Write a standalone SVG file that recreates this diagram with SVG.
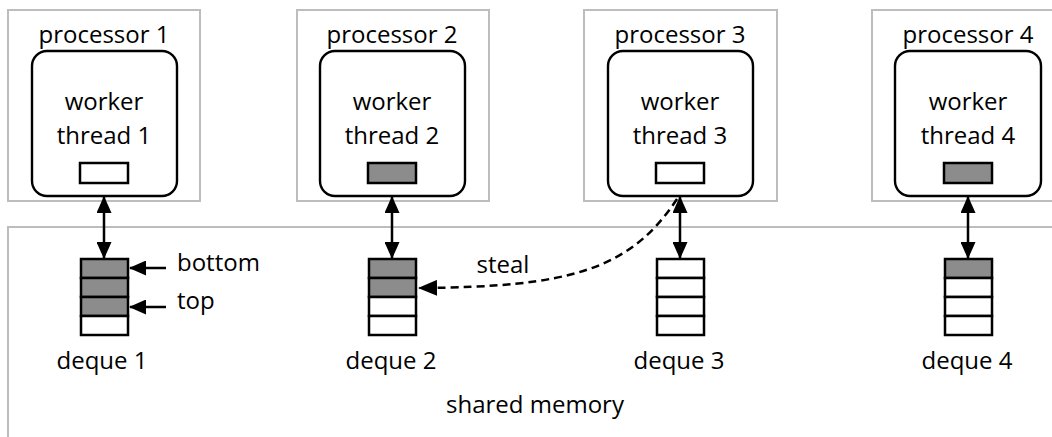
<svg xmlns="http://www.w3.org/2000/svg" width="1052" height="437" viewBox="0 0 1052 437">
<defs>
<style>
.proc{fill:#fff;stroke:#bdbdbd;stroke-width:2}
.mem{fill:#fff;stroke:#bdbdbd;stroke-width:2}
.worker{fill:#fff;stroke:#000;stroke-width:2.4}
.cell{stroke:#000;stroke-width:2.5}
.full{fill:#8c8c8c}
.empty{fill:#fff}
text{font-family:"Open Sans","Liberation Sans",sans-serif;font-size:24px;fill:#000}
.c{text-anchor:middle}
.link{fill:none;stroke:#000;stroke-width:2.5}
.dash{fill:none;stroke:#000;stroke-width:2.5;stroke-dasharray:8 5}
</style>
<marker id="ah" viewBox="0 0 17 15" refX="16" refY="7.5" markerWidth="17" markerHeight="15" markerUnits="userSpaceOnUse" orient="auto-start-reverse">
<path d="M0 0 L17 7.5 L0 15 Z" fill="#000"/>
</marker>
<marker id="ah2" viewBox="0 0 19 16" refX="18" refY="8" markerWidth="19" markerHeight="16" markerUnits="userSpaceOnUse" orient="auto">
<path d="M0 0 L19 8 L0 16 Z" fill="#000"/>
</marker>
</defs>

<g id="shared-memory">
<rect class="mem" x="8" y="227" width="1060" height="220"/>
<text class="c" x="535" y="413">shared memory</text>
</g>

<g id="processor1">
<rect class="proc" x="8" y="10" width="192" height="191"/>
<text class="c" x="104" y="43">processor 1</text>
<rect class="worker" x="32" y="51" width="145" height="145" rx="15"/>
<text class="c" x="104" y="110">worker</text>
<text class="c" x="104" y="144">thread 1</text>
<rect class="cell empty" x="80" y="163" width="48" height="20"/>
</g>

<g id="processor2">
<rect class="proc" x="297" y="10" width="192" height="191"/>
<text class="c" x="392" y="43">processor 2</text>
<rect class="worker" x="320" y="51" width="145" height="145" rx="15"/>
<text class="c" x="392" y="110">worker</text>
<text class="c" x="392" y="144">thread 2</text>
<rect class="cell full" x="368" y="163" width="48" height="20"/>
</g>

<g id="processor3">
<rect class="proc" x="584" y="10" width="193" height="191"/>
<text class="c" x="680" y="43">processor 3</text>
<rect class="worker" x="608" y="51" width="145" height="145" rx="15"/>
<text class="c" x="680" y="110">worker</text>
<text class="c" x="680" y="144">thread 3</text>
<rect class="cell empty" x="656" y="163" width="48" height="20"/>
</g>

<g id="processor4">
<rect class="proc" x="872" y="10" width="192" height="191"/>
<text class="c" x="968" y="43">processor 4</text>
<rect class="worker" x="895" y="51" width="146" height="145" rx="15"/>
<text class="c" x="968" y="110">worker</text>
<text class="c" x="968" y="144">thread 4</text>
<rect class="cell full" x="944" y="163" width="48" height="20"/>
</g>

<g id="deque1">
<rect class="cell full" x="81" y="259" width="47" height="19"/>
<rect class="cell full" x="81" y="278" width="47" height="19"/>
<rect class="cell full" x="81" y="297" width="47" height="19"/>
<rect class="cell empty" x="81" y="316" width="47" height="19"/>
<text class="c" x="102" y="369">deque 1</text>
</g>

<g id="deque2">
<rect class="cell full" x="369" y="259" width="47" height="19"/>
<rect class="cell full" x="369" y="278" width="47" height="19"/>
<rect class="cell empty" x="369" y="297" width="47" height="19"/>
<rect class="cell empty" x="369" y="316" width="47" height="19"/>
<text class="c" x="391" y="369">deque 2</text>
</g>

<g id="deque3">
<rect class="cell empty" x="657" y="259" width="47" height="19"/>
<rect class="cell empty" x="657" y="278" width="47" height="19"/>
<rect class="cell empty" x="657" y="297" width="47" height="19"/>
<rect class="cell empty" x="657" y="316" width="47" height="19"/>
<text class="c" x="679" y="369">deque 3</text>
</g>

<g id="deque4">
<rect class="cell full" x="945" y="259" width="47" height="19"/>
<rect class="cell empty" x="945" y="278" width="47" height="19"/>
<rect class="cell empty" x="945" y="297" width="47" height="19"/>
<rect class="cell empty" x="945" y="316" width="47" height="19"/>
<text class="c" x="967" y="369">deque 4</text>
</g>

<g id="connectors">
<line class="link" x1="104" y1="197" x2="104" y2="258" marker-start="url(#ah)" marker-end="url(#ah)"/>
<line class="link" x1="392" y1="197" x2="392" y2="258" marker-start="url(#ah)" marker-end="url(#ah)"/>
<line class="link" x1="680" y1="197" x2="680" y2="258" marker-start="url(#ah)" marker-end="url(#ah)"/>
<line class="link" x1="968" y1="197" x2="968" y2="258" marker-start="url(#ah)" marker-end="url(#ah)"/>
<path class="dash" d="M677 199 C630 270 570 287 419 288" marker-end="url(#ah2)"/>
<line class="link" x1="166" y1="268" x2="130" y2="268" marker-end="url(#ah)"/>
<line class="link" x1="166" y1="307" x2="130" y2="307" marker-end="url(#ah)"/>
</g>

<g id="labels">
<text x="177" y="271">bottom</text>
<text x="177" y="309">top</text>
<text class="c" x="503" y="273">steal</text>
</g>
</svg>
